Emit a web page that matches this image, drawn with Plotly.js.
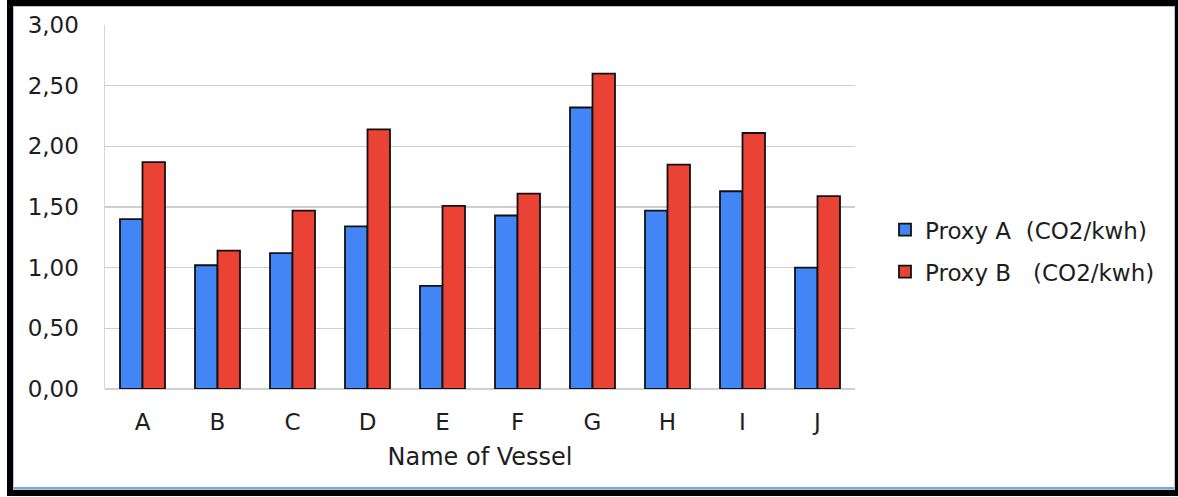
<!DOCTYPE html>
<html>
<head>
<meta charset="utf-8">
<script src="https://cdn.plot.ly/plotly-3.0.1.min.js"></script>
<style>
  html, body { margin: 0; padding: 0; background: #fff; }
  #wrap { position: relative; width: 1178px; height: 497px; overflow: hidden; }
  #chart { position: absolute; left: 0; top: 0; width: 1178px; height: 497px; }
  #frame {
    position: absolute; left: 7px; top: 0px; width: 1162px; height: 484px;
    border-left: 6px solid #000; border-top: 6px solid #000;
    border-right: 3px solid #000; border-bottom: 6px solid #000;
    box-shadow: inset 0 0 0 1px #a9c4e6, inset 0 -2px 0 1px #7fa3d0;
    pointer-events: none;
  }
</style>
</head>
<body>
<div id="wrap">
  <div id="chart"></div>
  <div id="frame"></div>
</div>
<script>
const vessels = ["A", "B", "C", "D", "E", "F", "G", "H", "I", "J"];
const proxyA = [1.40, 1.02, 1.12, 1.34, 0.85, 1.43, 2.32, 1.47, 1.63, 1.00];
const proxyB = [1.87, 1.14, 1.47, 2.14, 1.51, 1.61, 2.60, 1.85, 2.11, 1.59];
const seriesNames = ["Proxy A  (CO2/kwh)", "Proxy B   (CO2/kwh)"];
const yTicks = [0, 0.5, 1, 1.5, 2, 2.5, 3];

const font = "DejaVu Sans, Liberation Sans, Arial, sans-serif";
const txt = "#1e1e1e";

const traces = [
  {
    type: "bar", x: vessels, y: proxyA, name: seriesNames[0], legendgroup: "a",
    marker: { color: "#4285F4", line: { color: "#111", width: 1.8 } },
    hoverinfo: "x+y"
  },
  {
    type: "bar", x: vessels, y: proxyB, name: seriesNames[1], legendgroup: "b",
    marker: { color: "#EA4335", line: { color: "#111", width: 1.8 } },
    hoverinfo: "x+y"
  }
];

const layout = {
  width: 1178, height: 497,
  margin: { l: 105, r: 323, t: 25, b: 108, pad: 0 },
  paper_bgcolor: "#fff", plot_bgcolor: "#fff",
  separators: ",.",
  font: { family: font, size: 22, color: txt },
  barmode: "group", bargap: 0.4, bargroupgap: 0,
  showlegend: true,
  legend: {
    x: 1.04, xanchor: "left", y: 0.38, yanchor: "middle",
    font: { family: font, size: 23, color: txt },
    traceorder: "grouped", tracegroupgap: 9,
    itemwidth: 30, bgcolor: "rgba(0,0,0,0)"
  },
  xaxis: {
    type: "category",
    showgrid: false, showline: false, zeroline: false,
    ticks: "", ticklabelstandoff: 17,
    tickfont: { family: font, size: 23, color: txt },
    title: { text: "Name of Vessel", font: { family: font, size: 24, color: txt }, standoff: 14 }
  },
  yaxis: {
    range: [0, 3], tickvals: yTicks, tickformat: ".2f",
    showgrid: true, gridcolor: "#cfcfcf", gridwidth: 1.5,
    showline: true, linecolor: "#d6d6d6", linewidth: 1.5,
    zeroline: true, zerolinecolor: "#cfcfcf", zerolinewidth: 1.5,
    ticks: "", ticklabelstandoff: 20,
    tickfont: { family: font, size: 23, color: txt }
  }
};

Plotly.newPlot("chart", traces, layout, { displayModeBar: false, staticPlot: true });
</script>
</body>
</html>
